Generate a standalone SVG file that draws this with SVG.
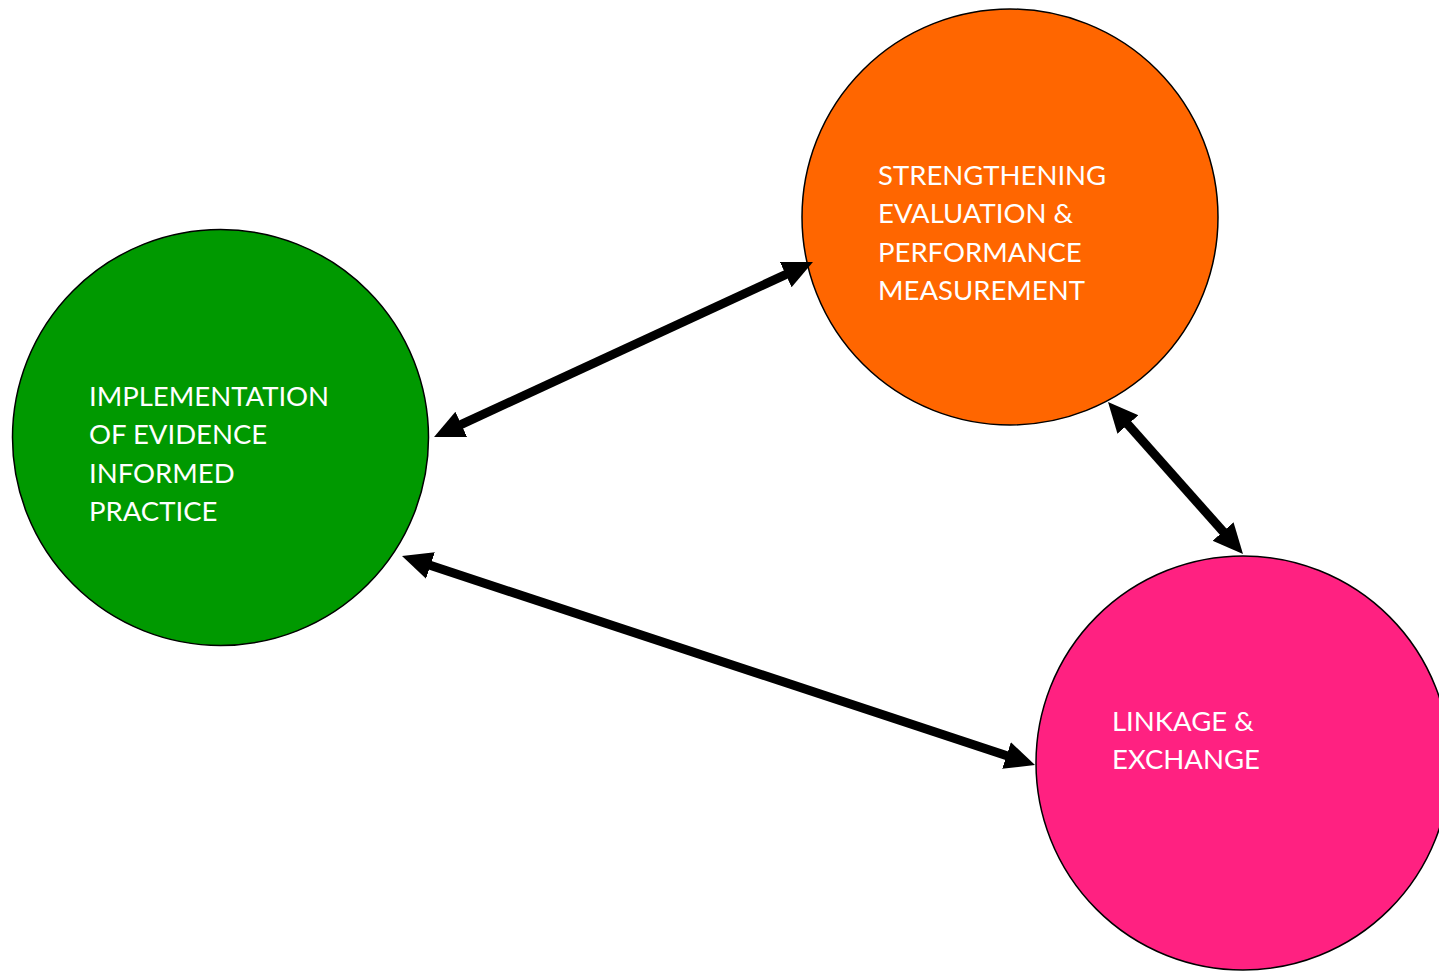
<svg xmlns="http://www.w3.org/2000/svg" width="1439" height="972" viewBox="0 0 1439 972">
<style>
.node{stroke:#000;stroke-width:1.5}
.lbl{font-family:Lato,"Open Sans","Liberation Sans",sans-serif;font-size:27.5px;fill:#fff}
.conn{stroke:#000;stroke-width:9;fill:none;marker-start:url(#ah);marker-end:url(#ah)}
</style>
<defs>
<marker id="ah" markerUnits="userSpaceOnUse" markerWidth="32" markerHeight="30" refX="10" refY="14" orient="auto-start-reverse" viewBox="0 0 32 30">
<path d="M0,0 L30,14 L0,28 z" fill="#000"/>
</marker>
</defs>
<rect width="1439" height="972" fill="#fff"/>
<g id="implementation">
<circle class="node" cx="220.5" cy="437.5" r="208" fill="#009900"/>
<text class="lbl"><tspan x="89" y="406">IMPLEMENTATION</tspan><tspan x="89" y="444">OF EVIDENCE</tspan><tspan x="89" y="483">INFORMED</tspan><tspan x="89" y="521">PRACTICE</tspan></text>
</g>
<g id="strengthening">
<circle class="node" cx="1010" cy="217" r="208" fill="#FF6600"/>
<text class="lbl"><tspan x="878" y="185">STRENGTHENING</tspan><tspan x="878" y="223">EVALUATION &amp;</tspan><tspan x="878" y="262">PERFORMANCE</tspan><tspan x="878" y="300">MEASUREMENT</tspan></text>
</g>
<g id="linkage">
<circle class="node" cx="1243" cy="763" r="207" fill="#FF2181"/>
<text class="lbl"><tspan x="1112" y="731">LINKAGE &amp;</tspan><tspan x="1112" y="769">EXCHANGE</tspan></text>
</g>
<g id="connectors">
<path class="conn" d="M452.2,428.6 L794.8,270.4"/>
<path class="conn" d="M1121.3,417 L1229.7,539"/>
<path class="conn" d="M421,562.3 L1016,758.7"/>
</g>
</svg>
